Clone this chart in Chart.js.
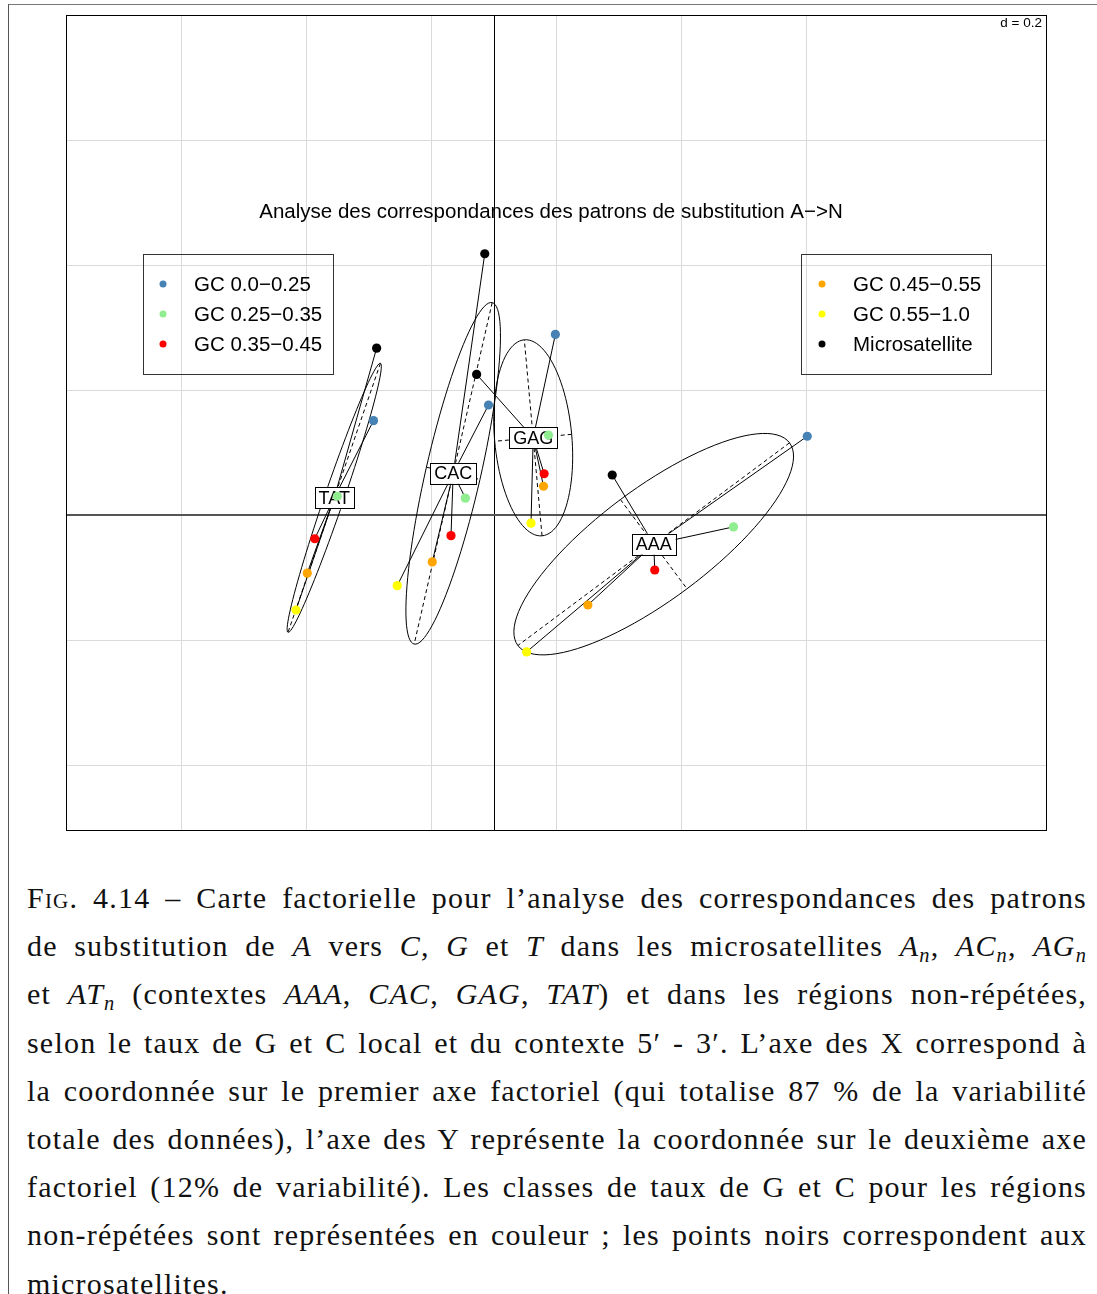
<!DOCTYPE html>
<html>
<head>
<meta charset="utf-8">
<script src="https://cdn.jsdelivr.net/npm/chart.js@4.4.1/dist/chart.umd.min.js"></script>
<style>
  body { margin: 0; background: #fff; width: 1097px; height: 1294px; overflow: hidden; position: relative; }
  #frame { position: absolute; left: 8px; top: 4px; width: 1100px; height: 1300px; border-left: 1.5px solid #555; border-top: 1.5px solid #777; }
  #wrap { position: absolute; left: 0; top: 0; width: 1097px; height: 840px; }
  #caption { position: absolute; left: 27px; top: 874px; width: 1060px; font-family: 'Liberation Serif', serif; font-size: 30px; letter-spacing: 1.2px; color: #111; }
  .ln { height: 48.2px; line-height: 48.2px; text-align: justify; text-align-last: justify; overflow: hidden; white-space: nowrap; }
  .ln.last { text-align-last: left; }
  sub { font-size: 0.68em; vertical-align: -0.28em; line-height: 0; }
  .sc { font-variant: small-caps; }
</style>
</head>
<body>
<div id="frame"></div>
<div id="wrap"><canvas id="acp"></canvas></div>
<div id="caption">
  <div class="ln"><span class="sc">Fig.</span> 4.14 – Carte factorielle pour l’analyse des correspondances des patrons</div>
  <div class="ln">de substitution de <i>A</i> vers <i>C</i>, <i>G</i> et <i>T</i> dans les microsatellites <i>A</i><sub><i>n</i></sub>, <i>AC</i><sub><i>n</i></sub>, <i>AG</i><sub><i>n</i></sub></div>
  <div class="ln">et <i>AT</i><sub><i>n</i></sub> (contextes <i>AAA</i>, <i>CAC</i>, <i>GAG</i>, <i>TAT</i>) et dans les régions non-répétées,</div>
  <div class="ln">selon le taux de G et C local et du contexte 5′ - 3′. L’axe des X correspond à</div>
  <div class="ln">la coordonnée sur le premier axe factoriel (qui totalise 87 % de la variabilité</div>
  <div class="ln">totale des données), l’axe des Y représente la coordonnée sur le deuxième axe</div>
  <div class="ln">factoriel (12% de variabilité). Les classes de taux de G et C pour les régions</div>
  <div class="ln">non-répétées sont représentées en couleur ; les points noirs correspondent aux</div>
  <div class="ln last">microsatellites.</div>
</div>
<script>
// contextes 5' - 3' (un point par contexte dans chaque classe)
const contexts = ['AAA', 'CAC', 'GAG', 'TAT'];
const classLabels = ['GC 0.0−0.25', 'GC 0.25−0.35', 'GC 0.35−0.45', 'GC 0.45−0.55', 'GC 0.55−1.0', 'Microsatellite'];
const classColors = ['#4682b4', '#90ee90', '#ff0000', '#ffa500', '#ffff00', '#000000'];

// coordonnées sur l'axe 1 (x) et l'axe 2 (y), ordre : AAA, CAC, GAG, TAT
const gc1X = [0.501, -0.009, 0.098, -0.193];
const gc1Y = [0.126, 0.176, 0.289, 0.151];
const gc2X = [0.383, -0.046, 0.087, -0.251];
const gc2Y = [-0.019, 0.027, 0.128, 0.030];
const gc3X = [0.257, -0.069, 0.080, -0.287];
const gc3Y = [-0.088, -0.033, 0.066, -0.038];
const gc4X = [0.150, -0.099, 0.079, -0.299];
const gc4Y = [-0.144, -0.075, 0.046, -0.093];
const gc5X = [0.052, -0.155, 0.059, -0.317];
const gc5Y = [-0.219, -0.113, -0.013, -0.152];
const microX = [0.189, -0.015, -0.028, -0.188];
const microY = [0.064, 0.418, 0.225, 0.267];

const gridX = [-0.5, -0.3, -0.1, 0.1, 0.3, 0.5];
const gridY = [-0.4, -0.2, 0, 0.2, 0.4, 0.6];
const xLimits = [-0.685, 0.883];
const yLimits = [-0.504, 0.8];
const titleText = 'Analyse des correspondances des patrons de substitution A−>N';
const gridStep = 'd = 0.2';

const allX = [gc1X, gc2X, gc3X, gc4X, gc5X, microX];
const allY = [gc1Y, gc2Y, gc3Y, gc4Y, gc5Y, microY];

const datasets = classLabels.map((lab, i) => ({
    label: lab,
    data: contexts.map((c, j) => ({ x: allX[i][j], y: allY[i][j] })),
    backgroundColor: classColors[i],
    borderWidth: 0,
    pointRadius: 4.6,
    pointHoverRadius: 4.6
}));

// ellipse de dispersion comme ade4 (cellipse = 1.5)
function ellipse(mx, my, vx, cxy, vy, coeff) {
    let delta = Math.sqrt((vx - vy) * (vx - vy) + 4 * cxy * cxy);
    let l1 = (vx + vy + delta) / 2;
    let l2 = vx + vy - l1;
    l1 = Math.sqrt(Math.max(l1, 0));
    l2 = Math.sqrt(Math.max(l2, 0));
    let a0 = 1, b0 = (l1 * l1 - vx) / cxy;
    const norm = Math.sqrt(a0 * a0 + b0 * b0);
    a0 /= norm; b0 /= norm;
    const c11 = coeff * a0 * l1, c12 = -coeff * b0 * l2;
    const c21 = coeff * b0 * l1, c22 = coeff * a0 * l2;
    const pts = [];
    for (let i = 0; i < 100; i++) {
        const a = i * 2 * Math.PI / 100;
        pts.push([mx + c11 * Math.cos(a) + c12 * Math.sin(a), my + c21 * Math.cos(a) + c22 * Math.sin(a)]);
    }
    return { pts, seg1: [mx + c11, my + c21, mx - c11, my - c21], seg2: [mx + c12, my + c22, mx - c12, my - c22] };
}

const sclassPlugin = {
    id: 'sclass',
    beforeDatasetsDraw(chart) {
        const ctx = chart.ctx;
        const xs = chart.scales.x, ys = chart.scales.y;
        const area = chart.chartArea;
        ctx.save();

        // titre
        ctx.fillStyle = '#000';
        ctx.font = '20.5px "Liberation Sans", Arial, sans-serif';
        ctx.textAlign = 'center';
        ctx.textBaseline = 'middle';
        ctx.fillText(titleText, 551, 212);

        // axes passant par l'origine
        const x0 = Math.round(xs.getPixelForValue(0)) + 0.5;
        const y0 = Math.round(ys.getPixelForValue(0));
        ctx.strokeStyle = '#000';
        ctx.lineWidth = 1;
        ctx.beginPath();
        ctx.moveTo(x0, area.top); ctx.lineTo(x0, area.bottom);
        ctx.stroke();
        ctx.strokeStyle = '#555';
        ctx.lineWidth = 2;
        ctx.beginPath();
        ctx.moveTo(area.left, y0); ctx.lineTo(area.right, y0);
        ctx.stroke();

        // légendes
        ctx.font = '20.5px "Liberation Sans", Arial, sans-serif';
        ctx.textAlign = 'left';
        const boxes = [{ x: 143.5, dot: 163, txt: 194, from: 0 }, { x: 801.5, dot: 822, txt: 853, from: 3 }];
        boxes.forEach(b => {
            ctx.strokeStyle = '#333';
            ctx.lineWidth = 1;
            ctx.strokeRect(b.x, 254.5, 190, 120);
            for (let k = 0; k < 3; k++) {
                const i = b.from + k;
                const yy = 284 + k * 30;
                ctx.fillStyle = classColors[i];
                ctx.beginPath(); ctx.arc(b.dot, yy, 3.5, 0, 2 * Math.PI); ctx.fill();
                ctx.fillStyle = '#000';
                ctx.fillText(classLabels[i], b.txt, yy + 1);
            }
        });

        // étoiles, ellipses et étiquettes par contexte
        contexts.forEach((c, j) => {
            const px = allX.map(a => a[j]), py = allY.map(a => a[j]);
            const n = px.length;
            const mx = px.reduce((s, v) => s + v, 0) / n;
            const my = py.reduce((s, v) => s + v, 0) / n;
            let vx = 0, vy = 0, cxy = 0;
            for (let i = 0; i < n; i++) {
                vx += (px[i] - mx) ** 2 / n;
                vy += (py[i] - my) ** 2 / n;
                cxy += (px[i] - mx) * (py[i] - my) / n;
            }
            const cx = xs.getPixelForValue(mx), cy = ys.getPixelForValue(my);

            ctx.strokeStyle = '#000';
            ctx.lineWidth = 1;
            ctx.setLineDash([]);
            for (let i = 0; i < n; i++) {
                ctx.beginPath();
                ctx.moveTo(xs.getPixelForValue(px[i]), ys.getPixelForValue(py[i]));
                ctx.lineTo(cx, cy);
                ctx.stroke();
            }

            const ell = ellipse(mx, my, vx, cxy, vy, 1.5);
            ctx.beginPath();
            ell.pts.forEach((p, k) => {
                const ex = xs.getPixelForValue(p[0]), ey = ys.getPixelForValue(p[1]);
                if (k === 0) ctx.moveTo(ex, ey); else ctx.lineTo(ex, ey);
            });
            ctx.closePath();
            ctx.stroke();
            ctx.setLineDash([4, 3]);
            [ell.seg1, ell.seg2].forEach(s => {
                ctx.beginPath();
                ctx.moveTo(xs.getPixelForValue(s[0]), ys.getPixelForValue(s[1]));
                ctx.lineTo(xs.getPixelForValue(s[2]), ys.getPixelForValue(s[3]));
                ctx.stroke();
            });
            ctx.setLineDash([]);

            ctx.font = '18px "Liberation Sans", Arial, sans-serif';
            const w = ctx.measureText(c).width + 8, h = 21;
            ctx.fillStyle = '#fff';
            ctx.fillRect(cx - w / 2, cy - h / 2, w, h);
            ctx.strokeRect(Math.round(cx - w / 2) + 0.5, Math.round(cy - h / 2) + 0.5, Math.round(w), h);
            ctx.fillStyle = '#000';
            ctx.textAlign = 'center';
            ctx.textBaseline = 'middle';
            ctx.fillText(c, cx, cy + 1);
        });
        ctx.restore();
    },
    afterDraw(chart) {
        const ctx = chart.ctx;
        const area = chart.chartArea;
        ctx.save();
        ctx.font = '13.5px "Liberation Sans", Arial, sans-serif';
        const tw = ctx.measureText(gridStep).width;
        ctx.fillStyle = '#fff';
        ctx.fillRect(area.right - tw - 8, area.top, tw + 8, 16);
        ctx.fillStyle = '#000';
        ctx.textAlign = 'right';
        ctx.textBaseline = 'middle';
        ctx.fillText(gridStep, area.right - 4, area.top + 8);
        ctx.strokeStyle = '#000';
        ctx.lineWidth = 1;
        ctx.strokeRect(Math.round(area.left) + 0.5, Math.round(area.top) + 0.5, Math.round(area.right - area.left), Math.round(area.bottom - area.top));
        ctx.restore();
    }
};

new Chart(document.getElementById('acp'), {
    type: 'scatter',
    data: { datasets: datasets },
    options: {
        responsive: true,
        maintainAspectRatio: false,
        animation: false,
        layout: { padding: { left: 66, top: 15, right: 51, bottom: 10 } },
        plugins: { legend: { display: false }, tooltip: { enabled: false }, title: { display: false } },
        scales: {
            x: {
                type: 'linear', min: xLimits[0], max: xLimits[1],
                afterBuildTicks: s => { s.ticks = gridX.map(v => ({ value: v })); },
                ticks: { display: false },
                grid: { color: '#dadada', drawTicks: false },
                border: { display: false }
            },
            y: {
                type: 'linear', min: yLimits[0], max: yLimits[1],
                afterBuildTicks: s => { s.ticks = gridY.map(v => ({ value: v })); },
                ticks: { display: false },
                grid: { color: '#dadada', drawTicks: false },
                border: { display: false }
            }
        }
    },
    plugins: [sclassPlugin]
});
</script>
</body>
</html>
